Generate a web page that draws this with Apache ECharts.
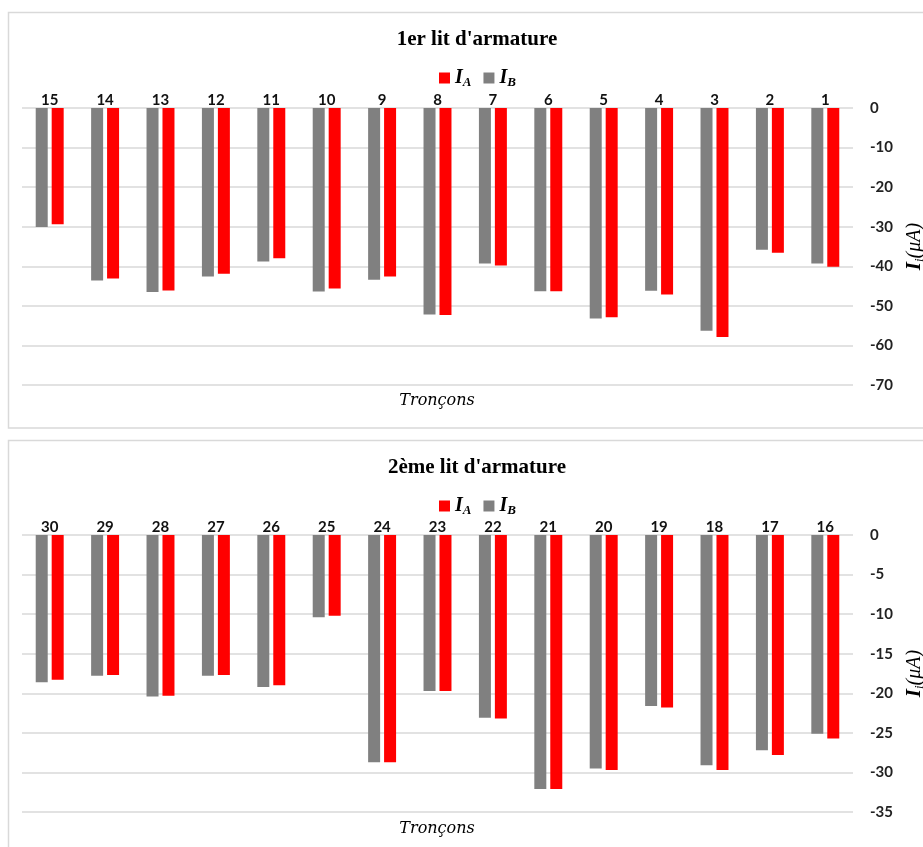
<!DOCTYPE html>
<html>
<head>
<meta charset="utf-8">
<script src="https://cdn.jsdelivr.net/npm/echarts@6/dist/echarts.min.js"></script>
<style>
html,body{margin:0;padding:0;background:#fff;}
#chart{width:923px;height:847px;}
</style>
</head>
<body>
<div id="chart"></div>
<script>
// ---- data ----
const cats1 = ['15','14','13','12','11','10','9','8','7','6','5','4','3','2','1'];
const IA1 = [-29.4,-43.1,-46.1,-41.9,-38.0,-45.6,-42.6,-52.3,-39.8,-46.3,-52.9,-47.1,-57.9,-36.6,-40.1];
const IB1 = [-30.1,-43.6,-46.5,-42.6,-38.8,-46.4,-43.4,-52.2,-39.3,-46.3,-53.2,-46.2,-56.3,-35.8,-39.3];
const yTicks1 = [0,-10,-20,-30,-40,-50,-60,-70];

const cats2 = ['30','29','28','27','26','25','24','23','22','21','20','19','18','17','16'];
const IA2 = [-18.3,-17.7,-20.3,-17.7,-19.0,-10.2,-28.7,-19.7,-23.2,-32.1,-29.7,-21.8,-29.7,-27.8,-25.7];
const IB2 = [-18.6,-17.8,-20.4,-17.8,-19.2,-10.4,-28.7,-19.7,-23.1,-32.1,-29.5,-21.6,-29.1,-27.2,-25.1];
const yTicks2 = [0,-5,-10,-15,-20,-25,-30,-35];

const titles = ["1er lit d'armature", "2ème lit d'armature"];
const seriesNames = ['I_A','I_B'];
const xName = 'Tronçons';

// ---- styles ----
const RED = '#ff0000', GRAY = '#808080', GRID = '#d9d9d9';
const serif = '"Liberation Serif", "DejaVu Serif", serif';
const sans = 'Lato, "Open Sans", sans-serif';

const richSub = {
  i: {fontFamily: serif, fontStyle: 'italic', fontWeight: 'bold', fontSize: 20, color: '#000'},
  s: {fontFamily: serif, fontStyle: 'italic', fontWeight: 'bold', fontSize: 13, color: '#000', padding: [9,0,0,0]}
};
const richName = {
  i: {fontFamily: serif, fontStyle: 'italic', fontWeight: 'bold', fontSize: 21, color: '#000'},
  s: {fontFamily: serif, fontStyle: 'italic', fontSize: 13, color: '#000', padding: [10,0,0,0]},
  p: {fontFamily: serif, fontStyle: 'italic', fontSize: 20, color: '#000'}
};

const panels = [
  {top: 108, cats: cats1, IA: IA1, IB: IB1, ticks: yTicks1, title: titles[0], titleY: 24, legendY: 63, boxY: 12.5, boxH: 415.5, nameY: 401},
  {top: 535, cats: cats2, IA: IA2, IB: IB2, ticks: yTicks2, title: titles[1], titleY: 452, legendY: 491, boxY: 440.5, boxH: 430, nameY: 829}
];
const plotH = 277;

const option = {
  animation: false,
  backgroundColor: '#fff',
  title: panels.map(p => ({
    text: p.title, left: 472, top: p.titleY, textAlign: 'center',
    textStyle: {fontFamily: serif, fontWeight: 'bold', fontSize: 21, color: '#000'}
  })),
  legend: panels.map(p => ({
    data: seriesNames, top: p.legendY, left: 434,
    icon: 'rect', itemWidth: 11, itemHeight: 11, itemGap: 12,
    formatter: n => n === 'I_A' ? '{i|I}{s|A}' : '{i|I}{s|B}',
    textStyle: {rich: richSub}
  })),
  grid: panels.map(p => ({left: 22, right: 70, top: p.top, height: plotH, containLabel: false, outerBoundsMode: 'none'})),
  xAxis: panels.map((p, k) => ({
    type: 'category', gridIndex: k, position: 'top', data: p.cats,
    axisLine: {show: false}, axisTick: {show: false},
    axisLabel: {margin: 0, fontFamily: sans, fontWeight: 'bold', fontSize: 15, color: '#111'}
  })),
  yAxis: panels.map((p, k) => ({
    type: 'value', gridIndex: k, position: 'right',
    min: Math.min(...p.ticks), max: Math.max(...p.ticks), interval: p.ticks[0] - p.ticks[1],
    axisLine: {show: false}, axisTick: {show: false},
    splitLine: {lineStyle: {color: GRID, width: 1.5}},
    axisLabel: {margin: 17, fontFamily: sans, fontWeight: 'bold', fontSize: 15, color: '#222'},
    name: '{i|I}{s|i}{p|(μA)}', nameLocation: 'middle', nameGap: 48,
    nameTextStyle: {rich: richName}
  })),
  series: panels.flatMap((p, k) => [
    {name: 'I_B', type: 'bar', xAxisIndex: k, yAxisIndex: k, data: p.IB, barWidth: 12, barGap: '33%',
     itemStyle: {color: GRAY}},
    {name: 'I_A', type: 'bar', xAxisIndex: k, yAxisIndex: k, data: p.IA, barWidth: 12, barGap: '33%',
     itemStyle: {color: RED}}
  ]),
  graphic: panels.flatMap(p => [
    {type: 'rect', shape: {x: 8.5, y: p.boxY, width: 940, height: p.boxH}, style: {fill: 'none', stroke: GRID, lineWidth: 1.5}, z: -1},
    {type: 'text', x: 437, y: p.nameY, style: {text: xName, fontFamily: '"DejaVu Serif", serif', fontStyle: 'italic', fontSize: 16, fill: '#000', textAlign: 'center', textVerticalAlign: 'middle'}}
  ])
};

const chart = echarts.init(document.getElementById('chart'), null, {renderer: 'canvas'});
chart.setOption(option);
</script>
</body>
</html>
